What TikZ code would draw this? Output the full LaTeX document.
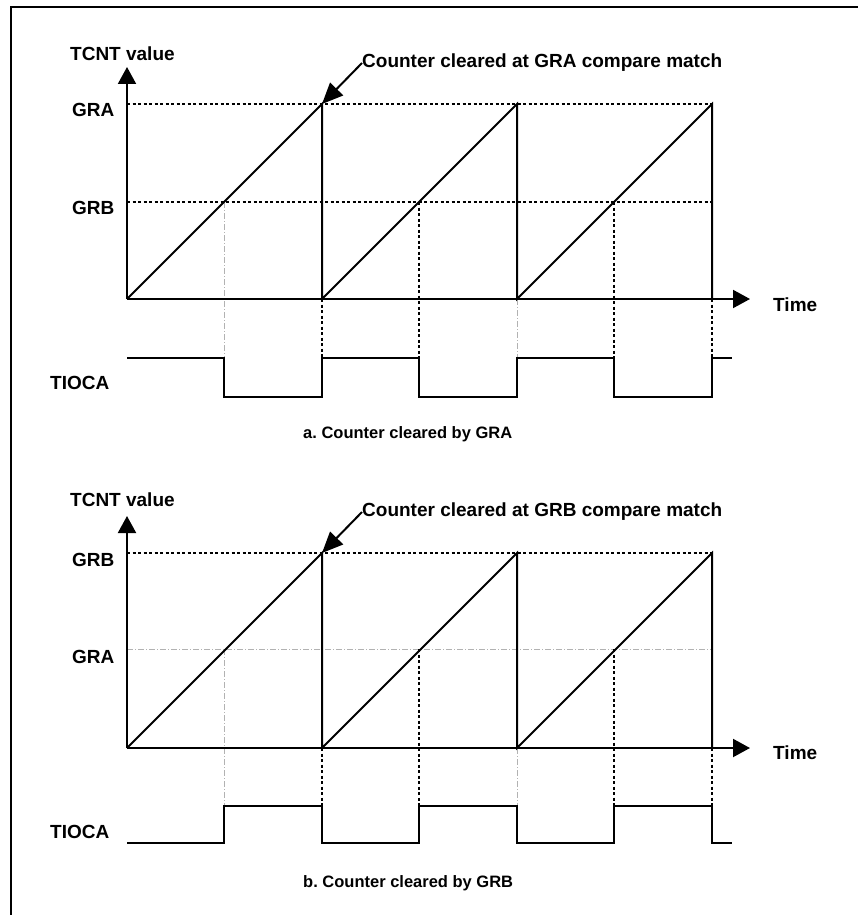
\documentclass[tikz,border=0pt]{standalone}
\usepackage{fontspec}
\setmainfont{Liberation Sans}
\usetikzlibrary{arrows.meta}

\tikzset{
  lbl/.style={inner sep=0pt,anchor=west,font=\fontsize{19}{22}\selectfont\bfseries},
  captext/.style={inner sep=0pt,anchor=west,font=\fontsize{16.5}{20}\selectfont\bfseries},
  axis/.style={line width=2pt,-{Triangle[length=17pt,width=18pt]}},
  wave/.style={line width=2pt,line join=miter},
  dotline/.style={line width=2.8pt,dash pattern=on 3pt off 2.5pt},
  thinline/.style={line width=0.6pt,gray!60,dash pattern=on 6pt off 2pt on 1pt off 2pt},
  callout/.style={line width=2pt,-{Triangle[length=21pt,width=18pt]}}
}

\begin{document}
\begin{tikzpicture}[x=1pt,y=-1pt]
\useasboundingbox (0,0) rectangle (858,915);
\draw[line width=2pt] (11,915) -- (11,7) -- (858,7);

% a. cleared by GRA
\begin{scope}
\coordinate (oA) at (127,299);
\coordinate (topA) at (322,104);
\draw[dotline] (127,104) -- (712,104);
\draw[dotline] (127,202) -- (712,202);
\draw[thinline] (224,202) -- (224,358);
\draw[dotline] (419,202) -- (419,358);
\draw[dotline] (614,202) -- (614,358);
\draw[dotline] (322,299) -- (322,358);
\draw[thinline] (517,299) -- (517,358);
\draw[dotline] (712,299) -- (712,358);
\draw[axis] (oA) -- (127,67);
\draw[axis] (oA) -- (750,299);
\draw[wave] (oA) -- (topA) -- (322,299) -- (517,104) -- (517,299) -- (712,104) -- (712,299);
\draw[wave] (127,358) -- (224,358) -- (224,397) -- (322,397) -- (322,358) -- (419,358)
  -- (419,397) -- (517,397) -- (517,358) -- (614,358) -- (614,397) -- (712,397)
  -- (712,358) -- (732,358);
\node[lbl] (tcntA) at (70,54) {TCNT value};
\node[lbl] (graA) at (72,110) {GRA};
\node[lbl] (grbA) at (72,208) {GRB};
\node[lbl] (tiocaA) at (50,383) {TIOCA};
\node[lbl] (timeA) at (773,305) {Time};
\node[lbl] (clrA) at (362,63) {Counter cleared at GRA compare match};
\draw[callout] (clrA.west) -- (topA);
\node[captext] (capA) at (303,434) {a.\ Counter cleared by GRA};
\end{scope}

% b. cleared by GRB
\begin{scope}[yshift=-449pt]
\coordinate (oB) at (127,299);
\coordinate (topB) at (322,104);
\draw[dotline] (127,104) -- (712,104);
\draw[thinline] (127,200) -- (712,200);
\draw[thinline] (224,200) -- (224,357);
\draw[dotline] (419,200) -- (419,357);
\draw[dotline] (614,200) -- (614,357);
\draw[dotline] (322,299) -- (322,357);
\draw[thinline] (517,299) -- (517,357);
\draw[dotline] (712,299) -- (712,357);
\draw[axis] (oB) -- (127,67);
\draw[axis] (oB) -- (750,299);
\draw[wave] (oB) -- (topB) -- (322,299) -- (517,104) -- (517,299) -- (712,104) -- (712,299);
\draw[wave] (127,394) -- (224,394) -- (224,357) -- (322,357) -- (322,394) -- (419,394)
  -- (419,357) -- (517,357) -- (517,394) -- (614,394) -- (614,357) -- (712,357)
  -- (712,394) -- (732,394);
\node[lbl] (tcntB) at (70,51) {TCNT value};
\node[lbl] (grbB) at (72,111) {GRB};
\node[lbl] (graB) at (72,208) {GRA};
\node[lbl] (tiocaB) at (50,383) {TIOCA};
\node[lbl] (timeB) at (773,304) {Time};
\node[lbl] (clrB) at (362,63) {Counter cleared at GRB compare match};
\draw[callout] (clrB.west) -- (topB);
\node[captext] (capB) at (303,434) {b.\ Counter cleared by GRB};
\end{scope}
\end{tikzpicture}
\end{document}
